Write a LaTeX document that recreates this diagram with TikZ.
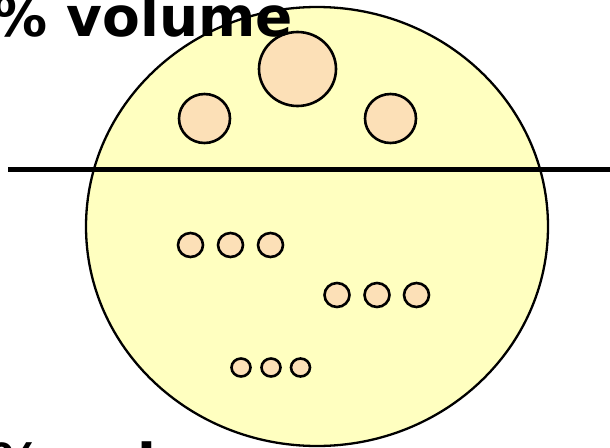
\documentclass[tikz,border=0pt]{standalone}
\usepackage{fontspec}
\setmainfont{DejaVu Sans}
\definecolor{cellyellow}{RGB}{255,255,192}
\definecolor{droplet}{RGB}{252,224,183}
\tikzset{
  drop/.style={draw=black, line width=2.6pt, fill=droplet},
  pct/.style={font=\fontsize{55}{64}\selectfont\bfseries, inner sep=0pt, anchor=base east}
}
\begin{document}
\begin{tikzpicture}[x=1pt,y=-1pt]
\useasboundingbox (0,0) rectangle (610,447);
\clip (0,0) rectangle (610,447);
% cell
\draw[line width=2.3pt, fill=cellyellow] (317,226.5) ellipse [x radius=231, y radius=219.5];
% large droplets above the line
\draw[drop] (297.5,69) ellipse [x radius=38.5, y radius=37];
\draw[drop] (204.5,118.5) ellipse [x radius=25.5, y radius=24.5];
\draw[drop] (390.5,118.5) ellipse [x radius=25.5, y radius=24.5];
% divider
\draw[line width=5pt] (8,169)--(610,169);
% small droplets below the line
\draw[drop] (190.5,245) ellipse [x radius=12.5, y radius=12];
\draw[drop] (230.5,245) ellipse [x radius=12.5, y radius=12];
\draw[drop] (270.5,245) ellipse [x radius=12.5, y radius=12];
\draw[drop] (337,295) ellipse [x radius=12.5, y radius=12];
\draw[drop] (377,295) ellipse [x radius=12.5, y radius=12];
\draw[drop] (416.5,295) ellipse [x radius=12.5, y radius=12];
\draw[drop] (241,367.5) ellipse [x radius=9.5, y radius=9];
\draw[drop] (271,367.5) ellipse [x radius=9.5, y radius=9];
\draw[drop] (300.5,367.5) ellipse [x radius=9.5, y radius=9];
% labels
\node[pct] (toplabel) at (293,36) {\% volume};
\node[pct] (bottomlabel) at (290,483) {\% volume};
\end{tikzpicture}
\end{document}
